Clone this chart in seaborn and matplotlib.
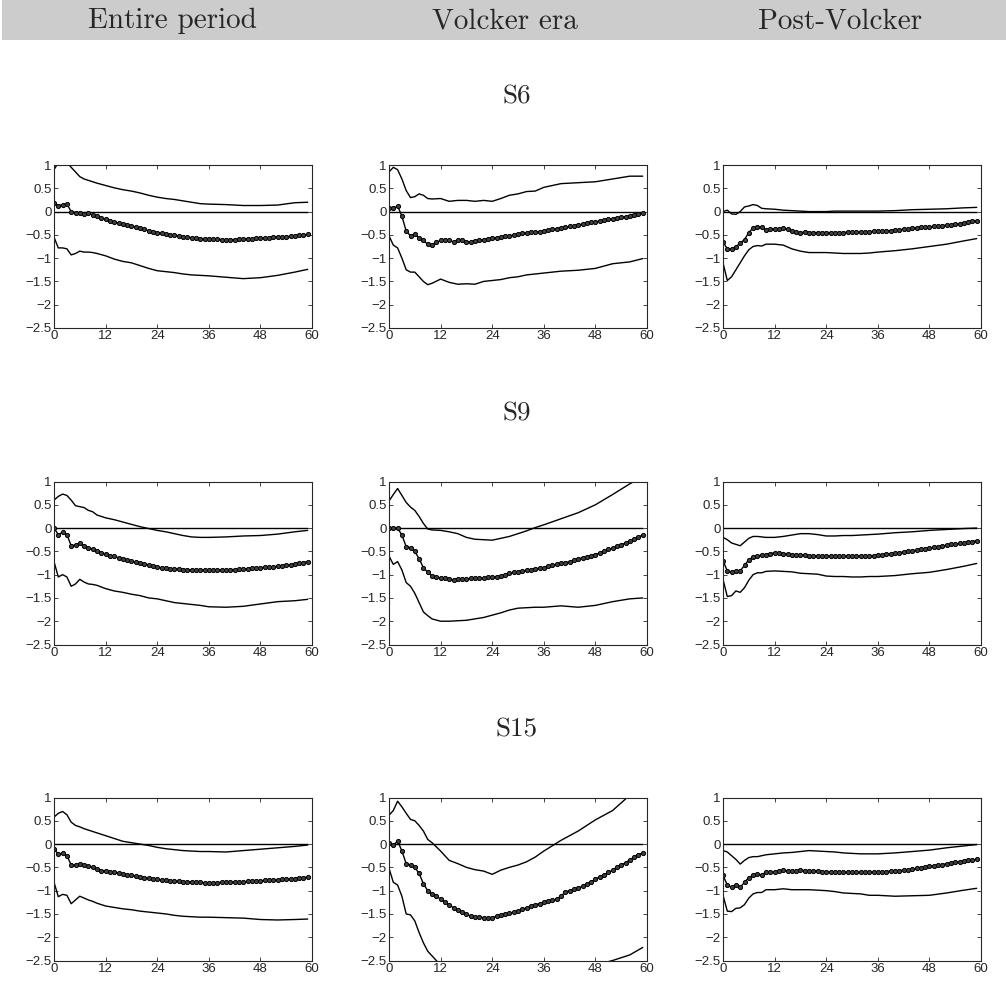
import matplotlib
matplotlib.use("Agg")
import matplotlib.pyplot as plt
from matplotlib.patches import Rectangle
import seaborn as sns

sns.set_style("ticks")
plt.rcParams['font.family'] = ['Liberation Sans', 'DejaVu Sans']

# Column / row labels
periods = ['Entire period', 'Volcker era', 'Post-Volcker']
shocks = ['S6', 'S9', 'S15']

# horizon (months)
horizon = list(range(60))
band_months = [0, 1, 2, 3, 4, 5, 6, 7, 8, 9, 10, 12, 14, 16, 18, 20, 22, 24, 26, 28,
               30, 32, 34, 36, 40, 44, 48, 52, 56, 59]

xticks = [0, 12, 24, 36, 48, 60]
yticks = [-2.5, -2, -1.5, -1, -0.5, 0, 0.5, 1]
ytick_labels = ['\u22122.5', '\u22122', '\u22121.5', '\u22121', '\u22120.5', '0', '0.5', '1']

# ---- S6 ----
entire_s6_mean = [0.18, 0.13, 0.15, 0.16, 0.0, -0.02, -0.03, -0.05, -0.04, -0.07,
                  -0.1, -0.13, -0.17, -0.2, -0.23, -0.25, -0.27, -0.29, -0.31, -0.33,
                  -0.36, -0.38, -0.41, -0.43, -0.45, -0.47, -0.49, -0.5, -0.51, -0.52,
                  -0.54, -0.55, -0.56, -0.57, -0.58, -0.58, -0.58, -0.59, -0.59, -0.6,
                  -0.6, -0.6, -0.6, -0.59, -0.59, -0.58, -0.58, -0.57, -0.57, -0.56,
                  -0.56, -0.55, -0.55, -0.54, -0.54, -0.53, -0.52, -0.51, -0.5, -0.49]
entire_s6_upper = [0.9, 1.05, 1.1, 1.05, 0.95, 0.85, 0.75, 0.7, 0.67, 0.64, 0.61, 0.56,
                   0.51, 0.47, 0.44, 0.4, 0.35, 0.31, 0.28, 0.26, 0.23, 0.2, 0.17, 0.16,
                   0.15, 0.13, 0.13, 0.14, 0.19, 0.2]
entire_s6_lower = [-0.55, -0.78, -0.78, -0.8, -0.93, -0.9, -0.85, -0.87, -0.87, -0.88,
                   -0.9, -0.95, -1.02, -1.07, -1.1, -1.16, -1.22, -1.27, -1.29, -1.31,
                   -1.34, -1.36, -1.37, -1.38, -1.41, -1.44, -1.42, -1.37, -1.3, -1.24]

volcker_s6_mean = [0.08, 0.07, 0.12, -0.1, -0.42, -0.52, -0.48, -0.57, -0.62, -0.7,
                   -0.72, -0.66, -0.62, -0.6, -0.62, -0.65, -0.62, -0.62, -0.65, -0.65,
                   -0.63, -0.61, -0.6, -0.58, -0.56, -0.56, -0.55, -0.53, -0.52, -0.5,
                   -0.48, -0.47, -0.45, -0.44, -0.43, -0.43, -0.42, -0.4, -0.38, -0.37,
                   -0.35, -0.34, -0.32, -0.3, -0.28, -0.27, -0.25, -0.23, -0.22, -0.2,
                   -0.18, -0.17, -0.15, -0.14, -0.12, -0.11, -0.09, -0.07, -0.05, -0.03]
volcker_s6_upper = [0.85, 0.95, 0.9, 0.7, 0.45, 0.3, 0.32, 0.38, 0.35, 0.28, 0.27, 0.28,
                    0.22, 0.24, 0.24, 0.22, 0.24, 0.22, 0.28, 0.35, 0.38, 0.43, 0.44, 0.52,
                    0.6, 0.62, 0.64, 0.7, 0.76, 0.76]
volcker_s6_lower = [-0.52, -0.72, -0.78, -1.0, -1.25, -1.3, -1.3, -1.4, -1.5, -1.57,
                    -1.54, -1.45, -1.52, -1.56, -1.55, -1.56, -1.5, -1.48, -1.46, -1.42,
                    -1.4, -1.36, -1.34, -1.32, -1.28, -1.26, -1.22, -1.12, -1.08, -1.01]

post_s6_mean = [-0.65, -0.8, -0.8, -0.75, -0.68, -0.6, -0.45, -0.35, -0.33, -0.33,
                -0.4, -0.38, -0.38, -0.37, -0.36, -0.38, -0.42, -0.44, -0.45, -0.44,
                -0.45, -0.45, -0.45, -0.45, -0.45, -0.45, -0.45, -0.45, -0.45, -0.44,
                -0.44, -0.44, -0.44, -0.43, -0.43, -0.42, -0.42, -0.42, -0.41, -0.41,
                -0.4, -0.39, -0.38, -0.37, -0.36, -0.35, -0.34, -0.34, -0.33, -0.32,
                -0.31, -0.3, -0.29, -0.28, -0.27, -0.26, -0.24, -0.23, -0.21, -0.2]
post_s6_upper = [0.0, 0.03, -0.05, -0.06, 0.0, 0.1, 0.12, 0.15, 0.13, 0.07, 0.06, 0.05,
                 0.03, 0.02, 0.01, 0.0, 0.0, 0.0, 0.01, 0.01, 0.01, 0.01, 0.01, 0.01,
                 0.02, 0.04, 0.05, 0.06, 0.08, 0.09]
post_s6_lower = [-1.1, -1.48, -1.4, -1.25, -1.1, -0.95, -0.82, -0.75, -0.73, -0.74,
                 -0.7, -0.7, -0.72, -0.8, -0.85, -0.88, -0.88, -0.88, -0.89, -0.9,
                 -0.9, -0.9, -0.89, -0.87, -0.84, -0.8, -0.75, -0.7, -0.63, -0.58]

# ---- S9 ----
entire_s9_mean = [0.0, -0.14, -0.09, -0.14, -0.38, -0.36, -0.33, -0.38, -0.42, -0.46,
                  -0.5, -0.53, -0.56, -0.59, -0.61, -0.64, -0.66, -0.69, -0.71, -0.73,
                  -0.75, -0.77, -0.79, -0.81, -0.83, -0.85, -0.86, -0.87, -0.88, -0.88,
                  -0.89, -0.89, -0.9, -0.9, -0.9, -0.9, -0.9, -0.9, -0.9, -0.9,
                  -0.9, -0.89, -0.89, -0.88, -0.88, -0.87, -0.86, -0.86, -0.85, -0.84,
                  -0.83, -0.83, -0.82, -0.81, -0.8, -0.79, -0.77, -0.76, -0.74, -0.72]
entire_s9_upper = [0.6, 0.68, 0.73, 0.7, 0.6, 0.48, 0.46, 0.44, 0.38, 0.35, 0.28, 0.22,
                   0.18, 0.13, 0.08, 0.03, -0.01, -0.05, -0.08, -0.12, -0.16, -0.19, -0.2,
                   -0.2, -0.19, -0.17, -0.16, -0.13, -0.08, -0.05]
entire_s9_lower = [-0.72, -1.05, -1.0, -1.05, -1.25, -1.2, -1.1, -1.16, -1.2, -1.21,
                   -1.23, -1.3, -1.35, -1.38, -1.42, -1.45, -1.5, -1.52, -1.56, -1.6,
                   -1.62, -1.64, -1.66, -1.69, -1.7, -1.68, -1.63, -1.58, -1.56, -1.53]

volcker_s9_mean = [0.0, 0.0, 0.0, -0.15, -0.4, -0.42, -0.5, -0.66, -0.85, -0.95,
                   -1.03, -1.05, -1.07, -1.08, -1.1, -1.11, -1.1, -1.1, -1.09, -1.08,
                   -1.07, -1.08, -1.08, -1.06, -1.05, -1.04, -1.03, -1.0, -0.97, -0.95,
                   -0.94, -0.92, -0.91, -0.89, -0.87, -0.86, -0.85, -0.82, -0.8, -0.78,
                   -0.76, -0.74, -0.72, -0.69, -0.66, -0.64, -0.62, -0.59, -0.57, -0.53,
                   -0.5, -0.46, -0.43, -0.39, -0.36, -0.32, -0.28, -0.24, -0.19, -0.15]
volcker_s9_upper = [0.58, 0.72, 0.85, 0.7, 0.55, 0.45, 0.38, 0.25, 0.1, -0.02, -0.04,
                    -0.05, -0.08, -0.12, -0.2, -0.24, -0.25, -0.26, -0.22, -0.18, -0.12,
                    -0.06, 0.01, 0.07, 0.2, 0.33, 0.5, 0.72, 0.95, 1.1]
volcker_s9_lower = [-0.6, -0.78, -0.72, -0.9, -1.17, -1.25, -1.4, -1.6, -1.8, -1.88,
                    -1.95, -2.0, -2.0, -1.99, -1.98, -1.95, -1.92, -1.87, -1.82, -1.76,
                    -1.72, -1.71, -1.7, -1.7, -1.67, -1.7, -1.66, -1.58, -1.52, -1.5]

post_s9_mean = [-0.7, -0.92, -0.95, -0.93, -0.92, -0.8, -0.68, -0.62, -0.6, -0.58,
                -0.57, -0.55, -0.53, -0.53, -0.55, -0.56, -0.57, -0.57, -0.58, -0.58,
                -0.59, -0.59, -0.6, -0.6, -0.6, -0.6, -0.61, -0.61, -0.6, -0.6,
                -0.6, -0.6, -0.6, -0.6, -0.59, -0.59, -0.58, -0.57, -0.56, -0.55,
                -0.54, -0.53, -0.51, -0.5, -0.49, -0.47, -0.46, -0.44, -0.43, -0.41,
                -0.4, -0.38, -0.37, -0.35, -0.34, -0.33, -0.31, -0.3, -0.29, -0.27]
post_s9_upper = [-0.2, -0.25, -0.32, -0.35, -0.38, -0.3, -0.22, -0.18, -0.18, -0.19,
                 -0.2, -0.2, -0.18, -0.15, -0.12, -0.12, -0.14, -0.17, -0.17, -0.16,
                 -0.16, -0.15, -0.14, -0.13, -0.1, -0.08, -0.05, -0.03, -0.01, 0.0]
post_s9_lower = [-1.1, -1.47, -1.45, -1.35, -1.38, -1.28, -1.12, -1.0, -0.96, -0.96,
                 -0.93, -0.92, -0.93, -0.94, -0.97, -0.98, -0.99, -1.03, -1.04, -1.04,
                 -1.05, -1.05, -1.04, -1.04, -1.02, -0.98, -0.95, -0.89, -0.82, -0.76]

# ---- S15 ----
entire_s15_mean = [-0.1, -0.22, -0.2, -0.25, -0.45, -0.45, -0.42, -0.45, -0.47, -0.5,
                   -0.53, -0.57, -0.58, -0.6, -0.61, -0.63, -0.64, -0.66, -0.67, -0.69,
                   -0.7, -0.72, -0.73, -0.75, -0.76, -0.77, -0.78, -0.79, -0.8, -0.8,
                   -0.81, -0.81, -0.82, -0.82, -0.82, -0.83, -0.83, -0.83, -0.83, -0.82,
                   -0.82, -0.82, -0.82, -0.81, -0.81, -0.8, -0.8, -0.79, -0.79, -0.78,
                   -0.78, -0.77, -0.77, -0.76, -0.76, -0.75, -0.74, -0.73, -0.72, -0.71]
entire_s15_upper = [0.58, 0.66, 0.7, 0.63, 0.47, 0.4, 0.37, 0.33, 0.3, 0.27, 0.24, 0.18,
                    0.12, 0.06, 0.03, 0.0, -0.03, -0.07, -0.1, -0.12, -0.14, -0.15, -0.16,
                    -0.16, -0.17, -0.14, -0.11, -0.08, -0.05, -0.02]
entire_s15_lower = [-0.82, -1.13, -1.08, -1.1, -1.28, -1.2, -1.12, -1.16, -1.2, -1.23,
                    -1.27, -1.33, -1.36, -1.39, -1.41, -1.44, -1.46, -1.48, -1.5, -1.53,
                    -1.55, -1.56, -1.57, -1.57, -1.58, -1.59, -1.62, -1.63, -1.62, -1.61]

volcker_s15_mean = [0.02, -0.03, 0.07, -0.15, -0.42, -0.45, -0.5, -0.63, -0.85, -1.0,
                    -1.08, -1.12, -1.18, -1.25, -1.3, -1.37, -1.42, -1.45, -1.5, -1.55,
                    -1.57, -1.57, -1.58, -1.59, -1.58, -1.55, -1.53, -1.51, -1.49, -1.46,
                    -1.43, -1.4, -1.37, -1.33, -1.3, -1.28, -1.25, -1.23, -1.21, -1.18,
                    -1.12, -1.03, -1.0, -0.97, -0.95, -0.9, -0.86, -0.81, -0.76, -0.7,
                    -0.66, -0.61, -0.56, -0.5, -0.45, -0.4, -0.34, -0.28, -0.23, -0.19]
volcker_s15_upper = [0.62, 0.72, 0.92, 0.8, 0.66, 0.53, 0.5, 0.4, 0.28, 0.1, 0.03,
                     -0.15, -0.35, -0.42, -0.5, -0.55, -0.58, -0.65, -0.56, -0.5, -0.45,
                     -0.38, -0.28, -0.15, 0.08, 0.28, 0.52, 0.72, 1.05, 1.2]
volcker_s15_lower = [-0.52, -0.82, -0.88, -1.12, -1.5, -1.52, -1.65, -1.9, -2.12, -2.3,
                     -2.4, -2.6, -2.75, -2.85, -2.9, -2.95, -2.95, -2.95, -2.95, -2.9,
                     -2.9, -2.85, -2.8, -2.75, -2.7, -2.65, -2.6, -2.5, -2.38, -2.22]

post_s15_mean = [-0.67, -0.88, -0.93, -0.88, -0.93, -0.82, -0.72, -0.67, -0.65, -0.66,
                 -0.6, -0.6, -0.6, -0.58, -0.56, -0.58, -0.58, -0.57, -0.56, -0.57,
                 -0.57, -0.58, -0.58, -0.59, -0.59, -0.6, -0.6, -0.6, -0.6, -0.61,
                 -0.61, -0.61, -0.61, -0.61, -0.61, -0.6, -0.6, -0.6, -0.59, -0.58,
                 -0.57, -0.57, -0.56, -0.55, -0.54, -0.52, -0.51, -0.5, -0.48, -0.47,
                 -0.45, -0.44, -0.42, -0.41, -0.39, -0.38, -0.36, -0.35, -0.34, -0.33]
post_s15_upper = [-0.14, -0.17, -0.25, -0.33, -0.43, -0.35, -0.29, -0.27, -0.27, -0.25,
                  -0.23, -0.21, -0.19, -0.18, -0.16, -0.14, -0.15, -0.16, -0.17, -0.19,
                  -0.2, -0.21, -0.21, -0.21, -0.19, -0.16, -0.13, -0.08, -0.04, -0.01]
post_s15_lower = [-1.1, -1.44, -1.45, -1.38, -1.37, -1.3, -1.16, -1.07, -1.04, -1.04,
                  -0.98, -0.98, -0.96, -0.98, -0.98, -0.98, -0.99, -1.0, -1.02, -1.05,
                  -1.06, -1.07, -1.1, -1.1, -1.12, -1.11, -1.1, -1.05, -0.99, -0.95]

panels = [
    [(entire_s6_mean, entire_s6_upper, entire_s6_lower),
     (volcker_s6_mean, volcker_s6_upper, volcker_s6_lower),
     (post_s6_mean, post_s6_upper, post_s6_lower)],
    [(entire_s9_mean, entire_s9_upper, entire_s9_lower),
     (volcker_s9_mean, volcker_s9_upper, volcker_s9_lower),
     (post_s9_mean, post_s9_upper, post_s9_lower)],
    [(entire_s15_mean, entire_s15_upper, entire_s15_lower),
     (volcker_s15_mean, volcker_s15_upper, volcker_s15_lower),
     (post_s15_mean, post_s15_upper, post_s15_lower)],
]

W, H = 1006, 981
fig = plt.figure(figsize=(W / 100, H / 100), dpi=100)

# grey header band
fig.patches.append(Rectangle((2 / W, 1 - 40 / H), 1, 40 / H, transform=fig.transFigure,
                             facecolor='#cccccc', edgecolor='none', zorder=0))
for txt, xc in zip(periods, [172, 505, 840]):
    fig.text(xc / W, 1 - 21 / H, txt, ha='center', va='center', fontsize=21,
             family='cmr10')

col_left = [54, 389, 723]
row_top = [165, 481.5, 797.5]
aw, ah = 258, 163

for r, shock in enumerate(shocks):
    fig.text(517 / W, 1 - (row_top[r] - 68) / H, shock, ha='center', va='center',
             fontsize=19.5, family='cmr10')
    for c in range(3):
        mean, upper, lower = panels[r][c]
        ax = fig.add_axes([col_left[c] / W, 1 - (row_top[r] + ah) / H, aw / W, ah / H])
        ax.hlines(0, horizon[0], horizon[-1], color='black', lw=1.0, zorder=1)
        sns.lineplot(x=band_months, y=upper, ax=ax, color='black', lw=1.0)
        sns.lineplot(x=band_months, y=lower, ax=ax, color='black', lw=1.0)
        sns.lineplot(x=horizon, y=mean, ax=ax, color='black', lw=1.0, marker='o',
                     markersize=3.0, markerfacecolor='0.25', markeredgecolor='black',
                     markeredgewidth=0.7)
        ax.set_xlim(0, 60)
        ax.set_ylim(-2.5, 1)
        ax.set_xticks(xticks)
        ax.set_yticks(yticks)
        ax.set_yticklabels(ytick_labels)
        ax.tick_params(direction='in', top=True, right=True, length=3, width=0.6,
                       labelsize=9.5, pad=1.5)
        for s in ax.spines.values():
            s.set_visible(True)
            s.set_linewidth(0.8)
        ax.set_xlabel('')
        ax.set_ylabel('')

fig.savefig('out.png', dpi=100)
